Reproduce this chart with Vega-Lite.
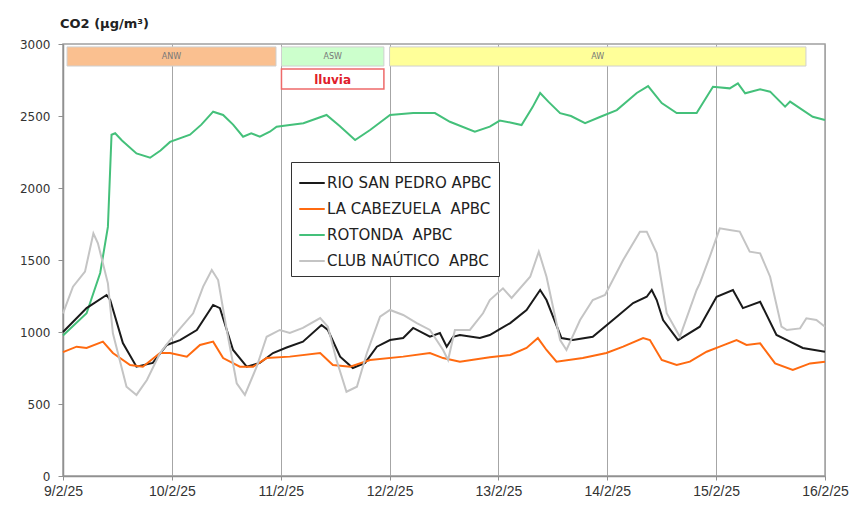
{
  "$schema": "https://vega.github.io/schema/vega-lite/v6.json",
  "autosize": "none",
  "width": 762,
  "height": 432,
  "padding": {"left": 63, "top": 44, "right": 26, "bottom": 52},
  "background": "white",
  "config": {
    "view": {"stroke": "#a0a0a0", "strokeWidth": 1.5},
    "font": "DejaVu Sans"
  },
  "title": {
    "text": "CO2 (µg/m³)",
    "anchor": "start",
    "frame": "group",
    "font": "DejaVu Sans",
    "fontSize": 13,
    "fontWeight": "bold",
    "color": "#222222",
    "offset": 7,
    "dx": -3
  },
  "datasets": {
    "co2": [
      {"d": "2025-02-09T00:00", "s": "ROTONDA  APBC", "v": 975},
      {"d": "2025-02-09T05:12", "s": "ROTONDA  APBC", "v": 1130},
      {"d": "2025-02-09T08:12", "s": "ROTONDA  APBC", "v": 1410},
      {"d": "2025-02-09T09:54", "s": "ROTONDA  APBC", "v": 1730},
      {"d": "2025-02-09T10:42", "s": "ROTONDA  APBC", "v": 2370},
      {"d": "2025-02-09T11:30", "s": "ROTONDA  APBC", "v": 2380},
      {"d": "2025-02-09T13:00", "s": "ROTONDA  APBC", "v": 2330},
      {"d": "2025-02-09T16:12", "s": "ROTONDA  APBC", "v": 2240},
      {"d": "2025-02-09T19:12", "s": "ROTONDA  APBC", "v": 2210},
      {"d": "2025-02-09T21:30", "s": "ROTONDA  APBC", "v": 2260},
      {"d": "2025-02-09T23:36", "s": "ROTONDA  APBC", "v": 2320},
      {"d": "2025-02-10T04:00", "s": "ROTONDA  APBC", "v": 2370},
      {"d": "2025-02-10T06:30", "s": "ROTONDA  APBC", "v": 2440},
      {"d": "2025-02-10T09:06", "s": "ROTONDA  APBC", "v": 2530},
      {"d": "2025-02-10T11:18", "s": "ROTONDA  APBC", "v": 2507},
      {"d": "2025-02-10T13:30", "s": "ROTONDA  APBC", "v": 2440},
      {"d": "2025-02-10T15:42", "s": "ROTONDA  APBC", "v": 2356},
      {"d": "2025-02-10T17:30", "s": "ROTONDA  APBC", "v": 2380},
      {"d": "2025-02-10T19:24", "s": "ROTONDA  APBC", "v": 2356},
      {"d": "2025-02-10T21:36", "s": "ROTONDA  APBC", "v": 2391},
      {"d": "2025-02-10T23:06", "s": "ROTONDA  APBC", "v": 2426},
      {"d": "2025-02-11T02:00", "s": "ROTONDA  APBC", "v": 2437},
      {"d": "2025-02-11T05:00", "s": "ROTONDA  APBC", "v": 2450},
      {"d": "2025-02-11T10:06", "s": "ROTONDA  APBC", "v": 2507},
      {"d": "2025-02-11T13:00", "s": "ROTONDA  APBC", "v": 2430},
      {"d": "2025-02-11T16:24", "s": "ROTONDA  APBC", "v": 2333},
      {"d": "2025-02-11T19:42", "s": "ROTONDA  APBC", "v": 2403},
      {"d": "2025-02-12T00:06", "s": "ROTONDA  APBC", "v": 2507},
      {"d": "2025-02-12T05:12", "s": "ROTONDA  APBC", "v": 2520},
      {"d": "2025-02-12T10:00", "s": "ROTONDA  APBC", "v": 2520},
      {"d": "2025-02-12T13:18", "s": "ROTONDA  APBC", "v": 2460},
      {"d": "2025-02-12T18:48", "s": "ROTONDA  APBC", "v": 2391},
      {"d": "2025-02-12T22:06", "s": "ROTONDA  APBC", "v": 2426},
      {"d": "2025-02-13T00:18", "s": "ROTONDA  APBC", "v": 2468},
      {"d": "2025-02-13T02:36", "s": "ROTONDA  APBC", "v": 2455},
      {"d": "2025-02-13T05:06", "s": "ROTONDA  APBC", "v": 2437},
      {"d": "2025-02-13T07:30", "s": "ROTONDA  APBC", "v": 2560},
      {"d": "2025-02-13T09:12", "s": "ROTONDA  APBC", "v": 2660},
      {"d": "2025-02-13T11:00", "s": "ROTONDA  APBC", "v": 2600},
      {"d": "2025-02-13T13:36", "s": "ROTONDA  APBC", "v": 2520},
      {"d": "2025-02-13T16:00", "s": "ROTONDA  APBC", "v": 2500},
      {"d": "2025-02-13T19:06", "s": "ROTONDA  APBC", "v": 2451},
      {"d": "2025-02-13T22:30", "s": "ROTONDA  APBC", "v": 2495},
      {"d": "2025-02-14T02:06", "s": "ROTONDA  APBC", "v": 2541},
      {"d": "2025-02-14T06:30", "s": "ROTONDA  APBC", "v": 2660},
      {"d": "2025-02-14T09:00", "s": "ROTONDA  APBC", "v": 2708},
      {"d": "2025-02-14T12:00", "s": "ROTONDA  APBC", "v": 2590},
      {"d": "2025-02-14T15:18", "s": "ROTONDA  APBC", "v": 2520},
      {"d": "2025-02-14T19:42", "s": "ROTONDA  APBC", "v": 2520},
      {"d": "2025-02-14T23:18", "s": "ROTONDA  APBC", "v": 2703},
      {"d": "2025-02-15T03:00", "s": "ROTONDA  APBC", "v": 2692},
      {"d": "2025-02-15T04:48", "s": "ROTONDA  APBC", "v": 2727},
      {"d": "2025-02-15T06:24", "s": "ROTONDA  APBC", "v": 2658},
      {"d": "2025-02-15T09:42", "s": "ROTONDA  APBC", "v": 2685},
      {"d": "2025-02-15T11:54", "s": "ROTONDA  APBC", "v": 2669},
      {"d": "2025-02-15T15:12", "s": "ROTONDA  APBC", "v": 2565},
      {"d": "2025-02-15T16:18", "s": "ROTONDA  APBC", "v": 2600},
      {"d": "2025-02-15T21:18", "s": "ROTONDA  APBC", "v": 2495},
      {"d": "2025-02-16T00:00", "s": "ROTONDA  APBC", "v": 2472},

      {"d": "2025-02-09T00:00", "s": "RIO SAN PEDRO APBC", "v": 1000},
      {"d": "2025-02-09T05:12", "s": "RIO SAN PEDRO APBC", "v": 1166},
      {"d": "2025-02-09T09:36", "s": "RIO SAN PEDRO APBC", "v": 1257},
      {"d": "2025-02-09T10:24", "s": "RIO SAN PEDRO APBC", "v": 1222},
      {"d": "2025-02-09T13:12", "s": "RIO SAN PEDRO APBC", "v": 923},
      {"d": "2025-02-09T16:12", "s": "RIO SAN PEDRO APBC", "v": 759},
      {"d": "2025-02-09T19:48", "s": "RIO SAN PEDRO APBC", "v": 785},
      {"d": "2025-02-09T22:54", "s": "RIO SAN PEDRO APBC", "v": 910},
      {"d": "2025-02-10T01:48", "s": "RIO SAN PEDRO APBC", "v": 944},
      {"d": "2025-02-10T05:30", "s": "RIO SAN PEDRO APBC", "v": 1014},
      {"d": "2025-02-10T09:06", "s": "RIO SAN PEDRO APBC", "v": 1188},
      {"d": "2025-02-10T10:36", "s": "RIO SAN PEDRO APBC", "v": 1166},
      {"d": "2025-02-10T13:30", "s": "RIO SAN PEDRO APBC", "v": 875},
      {"d": "2025-02-10T16:30", "s": "RIO SAN PEDRO APBC", "v": 759},
      {"d": "2025-02-10T19:24", "s": "RIO SAN PEDRO APBC", "v": 785},
      {"d": "2025-02-10T22:18", "s": "RIO SAN PEDRO APBC", "v": 854},
      {"d": "2025-02-11T01:18", "s": "RIO SAN PEDRO APBC", "v": 892},
      {"d": "2025-02-11T04:54", "s": "RIO SAN PEDRO APBC", "v": 933},
      {"d": "2025-02-11T09:00", "s": "RIO SAN PEDRO APBC", "v": 1049},
      {"d": "2025-02-11T10:24", "s": "RIO SAN PEDRO APBC", "v": 1014},
      {"d": "2025-02-11T13:06", "s": "RIO SAN PEDRO APBC", "v": 829},
      {"d": "2025-02-11T15:54", "s": "RIO SAN PEDRO APBC", "v": 750},
      {"d": "2025-02-11T18:36", "s": "RIO SAN PEDRO APBC", "v": 785},
      {"d": "2025-02-11T21:12", "s": "RIO SAN PEDRO APBC", "v": 898},
      {"d": "2025-02-12T00:06", "s": "RIO SAN PEDRO APBC", "v": 944},
      {"d": "2025-02-12T03:00", "s": "RIO SAN PEDRO APBC", "v": 958},
      {"d": "2025-02-12T05:12", "s": "RIO SAN PEDRO APBC", "v": 1028},
      {"d": "2025-02-12T08:54", "s": "RIO SAN PEDRO APBC", "v": 967},
      {"d": "2025-02-12T11:06", "s": "RIO SAN PEDRO APBC", "v": 993},
      {"d": "2025-02-12T12:36", "s": "RIO SAN PEDRO APBC", "v": 898},
      {"d": "2025-02-12T14:00", "s": "RIO SAN PEDRO APBC", "v": 967},
      {"d": "2025-02-12T15:30", "s": "RIO SAN PEDRO APBC", "v": 979},
      {"d": "2025-02-12T19:54", "s": "RIO SAN PEDRO APBC", "v": 958},
      {"d": "2025-02-12T22:06", "s": "RIO SAN PEDRO APBC", "v": 979},
      {"d": "2025-02-13T00:18", "s": "RIO SAN PEDRO APBC", "v": 1020},
      {"d": "2025-02-13T02:36", "s": "RIO SAN PEDRO APBC", "v": 1062},
      {"d": "2025-02-13T06:12", "s": "RIO SAN PEDRO APBC", "v": 1153},
      {"d": "2025-02-13T09:12", "s": "RIO SAN PEDRO APBC", "v": 1292},
      {"d": "2025-02-13T10:36", "s": "RIO SAN PEDRO APBC", "v": 1222},
      {"d": "2025-02-13T13:54", "s": "RIO SAN PEDRO APBC", "v": 958},
      {"d": "2025-02-13T16:24", "s": "RIO SAN PEDRO APBC", "v": 944},
      {"d": "2025-02-13T20:48", "s": "RIO SAN PEDRO APBC", "v": 967},
      {"d": "2025-02-14T02:06", "s": "RIO SAN PEDRO APBC", "v": 1106},
      {"d": "2025-02-14T05:42", "s": "RIO SAN PEDRO APBC", "v": 1201},
      {"d": "2025-02-14T08:42", "s": "RIO SAN PEDRO APBC", "v": 1245},
      {"d": "2025-02-14T09:48", "s": "RIO SAN PEDRO APBC", "v": 1292},
      {"d": "2025-02-14T10:54", "s": "RIO SAN PEDRO APBC", "v": 1222},
      {"d": "2025-02-14T12:18", "s": "RIO SAN PEDRO APBC", "v": 1083},
      {"d": "2025-02-14T15:36", "s": "RIO SAN PEDRO APBC", "v": 944},
      {"d": "2025-02-14T20:24", "s": "RIO SAN PEDRO APBC", "v": 1037},
      {"d": "2025-02-15T00:06", "s": "RIO SAN PEDRO APBC", "v": 1245},
      {"d": "2025-02-15T03:42", "s": "RIO SAN PEDRO APBC", "v": 1292},
      {"d": "2025-02-15T05:54", "s": "RIO SAN PEDRO APBC", "v": 1166},
      {"d": "2025-02-15T09:42", "s": "RIO SAN PEDRO APBC", "v": 1210},
      {"d": "2025-02-15T13:18", "s": "RIO SAN PEDRO APBC", "v": 979},
      {"d": "2025-02-15T16:18", "s": "RIO SAN PEDRO APBC", "v": 933},
      {"d": "2025-02-15T19:06", "s": "RIO SAN PEDRO APBC", "v": 889},
      {"d": "2025-02-16T00:00", "s": "RIO SAN PEDRO APBC", "v": 863},

      {"d": "2025-02-09T00:00", "s": "LA CABEZUELA  APBC", "v": 860},
      {"d": "2025-02-09T03:00", "s": "LA CABEZUELA  APBC", "v": 898},
      {"d": "2025-02-09T05:12", "s": "LA CABEZUELA  APBC", "v": 889},
      {"d": "2025-02-09T08:48", "s": "LA CABEZUELA  APBC", "v": 933},
      {"d": "2025-02-09T11:00", "s": "LA CABEZUELA  APBC", "v": 854},
      {"d": "2025-02-09T14:48", "s": "LA CABEZUELA  APBC", "v": 771},
      {"d": "2025-02-09T17:36", "s": "LA CABEZUELA  APBC", "v": 759},
      {"d": "2025-02-09T21:24", "s": "LA CABEZUELA  APBC", "v": 854},
      {"d": "2025-02-09T23:36", "s": "LA CABEZUELA  APBC", "v": 854},
      {"d": "2025-02-10T03:18", "s": "LA CABEZUELA  APBC", "v": 829},
      {"d": "2025-02-10T06:12", "s": "LA CABEZUELA  APBC", "v": 910},
      {"d": "2025-02-10T09:06", "s": "LA CABEZUELA  APBC", "v": 933},
      {"d": "2025-02-10T11:18", "s": "LA CABEZUELA  APBC", "v": 819},
      {"d": "2025-02-10T15:00", "s": "LA CABEZUELA  APBC", "v": 759},
      {"d": "2025-02-10T17:54", "s": "LA CABEZUELA  APBC", "v": 759},
      {"d": "2025-02-10T20:54", "s": "LA CABEZUELA  APBC", "v": 819},
      {"d": "2025-02-11T02:00", "s": "LA CABEZUELA  APBC", "v": 829},
      {"d": "2025-02-11T08:42", "s": "LA CABEZUELA  APBC", "v": 854},
      {"d": "2025-02-11T11:30", "s": "LA CABEZUELA  APBC", "v": 771},
      {"d": "2025-02-11T15:18", "s": "LA CABEZUELA  APBC", "v": 759},
      {"d": "2025-02-11T19:42", "s": "LA CABEZUELA  APBC", "v": 806},
      {"d": "2025-02-12T03:00", "s": "LA CABEZUELA  APBC", "v": 829},
      {"d": "2025-02-12T08:54", "s": "LA CABEZUELA  APBC", "v": 854},
      {"d": "2025-02-12T11:48", "s": "LA CABEZUELA  APBC", "v": 819},
      {"d": "2025-02-12T15:30", "s": "LA CABEZUELA  APBC", "v": 794},
      {"d": "2025-02-12T22:06", "s": "LA CABEZUELA  APBC", "v": 825},
      {"d": "2025-02-13T02:36", "s": "LA CABEZUELA  APBC", "v": 840},
      {"d": "2025-02-13T06:12", "s": "LA CABEZUELA  APBC", "v": 889},
      {"d": "2025-02-13T08:42", "s": "LA CABEZUELA  APBC", "v": 958},
      {"d": "2025-02-13T10:36", "s": "LA CABEZUELA  APBC", "v": 875},
      {"d": "2025-02-13T12:48", "s": "LA CABEZUELA  APBC", "v": 794},
      {"d": "2025-02-13T18:36", "s": "LA CABEZUELA  APBC", "v": 819},
      {"d": "2025-02-13T23:48", "s": "LA CABEZUELA  APBC", "v": 854},
      {"d": "2025-02-14T03:30", "s": "LA CABEZUELA  APBC", "v": 898},
      {"d": "2025-02-14T07:54", "s": "LA CABEZUELA  APBC", "v": 958},
      {"d": "2025-02-14T09:24", "s": "LA CABEZUELA  APBC", "v": 944},
      {"d": "2025-02-14T12:00", "s": "LA CABEZUELA  APBC", "v": 806},
      {"d": "2025-02-14T15:18", "s": "LA CABEZUELA  APBC", "v": 771},
      {"d": "2025-02-14T18:12", "s": "LA CABEZUELA  APBC", "v": 794},
      {"d": "2025-02-14T21:54", "s": "LA CABEZUELA  APBC", "v": 863},
      {"d": "2025-02-15T00:48", "s": "LA CABEZUELA  APBC", "v": 898},
      {"d": "2025-02-15T04:30", "s": "LA CABEZUELA  APBC", "v": 944},
      {"d": "2025-02-15T06:42", "s": "LA CABEZUELA  APBC", "v": 910},
      {"d": "2025-02-15T09:42", "s": "LA CABEZUELA  APBC", "v": 921},
      {"d": "2025-02-15T13:00", "s": "LA CABEZUELA  APBC", "v": 782},
      {"d": "2025-02-15T16:54", "s": "LA CABEZUELA  APBC", "v": 736},
      {"d": "2025-02-15T20:42", "s": "LA CABEZUELA  APBC", "v": 782},
      {"d": "2025-02-16T00:00", "s": "LA CABEZUELA  APBC", "v": 794},

      {"d": "2025-02-09T00:00", "s": "CLUB NAÚTICO  APBC", "v": 1130},
      {"d": "2025-02-09T02:12", "s": "CLUB NAÚTICO  APBC", "v": 1315},
      {"d": "2025-02-09T04:51", "s": "CLUB NAÚTICO  APBC", "v": 1419},
      {"d": "2025-02-09T06:42", "s": "CLUB NAÚTICO  APBC", "v": 1685},
      {"d": "2025-02-09T07:42", "s": "CLUB NAÚTICO  APBC", "v": 1616},
      {"d": "2025-02-09T09:54", "s": "CLUB NAÚTICO  APBC", "v": 1338},
      {"d": "2025-02-09T11:00", "s": "CLUB NAÚTICO  APBC", "v": 991},
      {"d": "2025-02-09T14:00", "s": "CLUB NAÚTICO  APBC", "v": 620},
      {"d": "2025-02-09T16:12", "s": "CLUB NAÚTICO  APBC", "v": 563},
      {"d": "2025-02-09T18:30", "s": "CLUB NAÚTICO  APBC", "v": 667},
      {"d": "2025-02-09T21:24", "s": "CLUB NAÚTICO  APBC", "v": 854},
      {"d": "2025-02-09T23:36", "s": "CLUB NAÚTICO  APBC", "v": 944},
      {"d": "2025-02-10T04:42", "s": "CLUB NAÚTICO  APBC", "v": 1130},
      {"d": "2025-02-10T06:54", "s": "CLUB NAÚTICO  APBC", "v": 1315},
      {"d": "2025-02-10T08:48", "s": "CLUB NAÚTICO  APBC", "v": 1430},
      {"d": "2025-02-10T10:12", "s": "CLUB NAÚTICO  APBC", "v": 1361},
      {"d": "2025-02-10T12:06", "s": "CLUB NAÚTICO  APBC", "v": 1014},
      {"d": "2025-02-10T14:18", "s": "CLUB NAÚTICO  APBC", "v": 644},
      {"d": "2025-02-10T16:06", "s": "CLUB NAÚTICO  APBC", "v": 563},
      {"d": "2025-02-10T18:42", "s": "CLUB NAÚTICO  APBC", "v": 759},
      {"d": "2025-02-10T20:54", "s": "CLUB NAÚTICO  APBC", "v": 967},
      {"d": "2025-02-10T23:48", "s": "CLUB NAÚTICO  APBC", "v": 1014},
      {"d": "2025-02-11T02:00", "s": "CLUB NAÚTICO  APBC", "v": 993},
      {"d": "2025-02-11T04:54", "s": "CLUB NAÚTICO  APBC", "v": 1028},
      {"d": "2025-02-11T08:42", "s": "CLUB NAÚTICO  APBC", "v": 1097},
      {"d": "2025-02-11T10:24", "s": "CLUB NAÚTICO  APBC", "v": 1037},
      {"d": "2025-02-11T12:18", "s": "CLUB NAÚTICO  APBC", "v": 806},
      {"d": "2025-02-11T14:30", "s": "CLUB NAÚTICO  APBC", "v": 585},
      {"d": "2025-02-11T16:48", "s": "CLUB NAÚTICO  APBC", "v": 620},
      {"d": "2025-02-11T19:00", "s": "CLUB NAÚTICO  APBC", "v": 854},
      {"d": "2025-02-11T21:54", "s": "CLUB NAÚTICO  APBC", "v": 1106},
      {"d": "2025-02-12T00:06", "s": "CLUB NAÚTICO  APBC", "v": 1153},
      {"d": "2025-02-12T03:00", "s": "CLUB NAÚTICO  APBC", "v": 1118},
      {"d": "2025-02-12T06:00", "s": "CLUB NAÚTICO  APBC", "v": 1062},
      {"d": "2025-02-12T08:54", "s": "CLUB NAÚTICO  APBC", "v": 1014},
      {"d": "2025-02-12T11:48", "s": "CLUB NAÚTICO  APBC", "v": 875},
      {"d": "2025-02-12T12:54", "s": "CLUB NAÚTICO  APBC", "v": 806},
      {"d": "2025-02-12T14:24", "s": "CLUB NAÚTICO  APBC", "v": 1014},
      {"d": "2025-02-12T17:42", "s": "CLUB NAÚTICO  APBC", "v": 1014},
      {"d": "2025-02-12T20:36", "s": "CLUB NAÚTICO  APBC", "v": 1130},
      {"d": "2025-02-12T22:06", "s": "CLUB NAÚTICO  APBC", "v": 1222},
      {"d": "2025-02-13T01:00", "s": "CLUB NAÚTICO  APBC", "v": 1303},
      {"d": "2025-02-13T02:54", "s": "CLUB NAÚTICO  APBC", "v": 1236},
      {"d": "2025-02-13T07:00", "s": "CLUB NAÚTICO  APBC", "v": 1384},
      {"d": "2025-02-13T08:54", "s": "CLUB NAÚTICO  APBC", "v": 1558},
      {"d": "2025-02-13T10:36", "s": "CLUB NAÚTICO  APBC", "v": 1384},
      {"d": "2025-02-13T13:36", "s": "CLUB NAÚTICO  APBC", "v": 944},
      {"d": "2025-02-13T15:00", "s": "CLUB NAÚTICO  APBC", "v": 875},
      {"d": "2025-02-13T18:00", "s": "CLUB NAÚTICO  APBC", "v": 1083},
      {"d": "2025-02-13T20:48", "s": "CLUB NAÚTICO  APBC", "v": 1222},
      {"d": "2025-02-13T23:30", "s": "CLUB NAÚTICO  APBC", "v": 1257},
      {"d": "2025-02-14T03:30", "s": "CLUB NAÚTICO  APBC", "v": 1500},
      {"d": "2025-02-14T07:12", "s": "CLUB NAÚTICO  APBC", "v": 1697},
      {"d": "2025-02-14T08:42", "s": "CLUB NAÚTICO  APBC", "v": 1697},
      {"d": "2025-02-14T10:54", "s": "CLUB NAÚTICO  APBC", "v": 1548},
      {"d": "2025-02-14T13:06", "s": "CLUB NAÚTICO  APBC", "v": 1130},
      {"d": "2025-02-14T16:00", "s": "CLUB NAÚTICO  APBC", "v": 967},
      {"d": "2025-02-14T19:42", "s": "CLUB NAÚTICO  APBC", "v": 1292},
      {"d": "2025-02-14T20:24", "s": "CLUB NAÚTICO  APBC", "v": 1338},
      {"d": "2025-02-14T22:36", "s": "CLUB NAÚTICO  APBC", "v": 1523},
      {"d": "2025-02-15T00:48", "s": "CLUB NAÚTICO  APBC", "v": 1720},
      {"d": "2025-02-15T03:00", "s": "CLUB NAÚTICO  APBC", "v": 1708},
      {"d": "2025-02-15T05:12", "s": "CLUB NAÚTICO  APBC", "v": 1697},
      {"d": "2025-02-15T07:24", "s": "CLUB NAÚTICO  APBC", "v": 1558},
      {"d": "2025-02-15T09:42", "s": "CLUB NAÚTICO  APBC", "v": 1546},
      {"d": "2025-02-15T11:54", "s": "CLUB NAÚTICO  APBC", "v": 1384},
      {"d": "2025-02-15T14:24", "s": "CLUB NAÚTICO  APBC", "v": 1037},
      {"d": "2025-02-15T15:36", "s": "CLUB NAÚTICO  APBC", "v": 1014},
      {"d": "2025-02-15T18:30", "s": "CLUB NAÚTICO  APBC", "v": 1025},
      {"d": "2025-02-15T19:54", "s": "CLUB NAÚTICO  APBC", "v": 1095},
      {"d": "2025-02-15T22:06", "s": "CLUB NAÚTICO  APBC", "v": 1083},
      {"d": "2025-02-16T00:00", "s": "CLUB NAÚTICO  APBC", "v": 1037}
    ],
    "bands": [
      {"a": "2025-02-09T00:53", "b": "2025-02-10T22:58", "lo": 2847, "hi": 2980, "c": "#fac090", "label": "ANW", "mid": "2025-02-09T23:55"},
      {"a": "2025-02-11T00:10", "b": "2025-02-11T22:45", "lo": 2847, "hi": 2980, "c": "#ccffcc", "label": "ASW", "mid": "2025-02-11T11:27"},
      {"a": "2025-02-12T00:00", "b": "2025-02-15T19:48", "lo": 2847, "hi": 2980, "c": "#ffff99", "label": "AW", "mid": "2025-02-13T21:54"}
    ],
    "rain": [
      {"a": "2025-02-11T00:10", "b": "2025-02-11T22:45", "lo": 2687, "hi": 2826, "label": "lluvia", "mid": "2025-02-11T11:27"}
    ]
  },
  "encoding": {
    "x": {
      "type": "temporal",
      "scale": {"domain": [{"year": 2025, "month": "feb", "date": 9}, {"year": 2025, "month": "feb", "date": 16}]},
      "axis": {
        "title": null,
        "format": "%-d/%-m/%y",
        "tickCount": {"interval": "day", "step": 1},
        "grid": true,
        "gridColor": "#a6a6a6",
        "gridWidth": 1,
        "domainColor": "#909090",
        "domainWidth": 1.5,
        "tickColor": "#909090",
        "tickSize": 4,
        "labelPadding": 4,
        "labelFont": "Liberation Sans",
        "labelFontSize": 14,
        "labelColor": "#333333",
        "labelFlush": false
      }
    },
    "y": {
      "type": "quantitative",
      "scale": {"domain": [0, 3000], "nice": false},
      "axis": {
        "title": null,
        "values": [0, 500, 1000, 1500, 2000, 2500, 3000],
        "format": "d",
        "grid": false,
        "domainColor": "#909090",
        "domainWidth": 1.5,
        "tickColor": "#909090",
        "tickSize": 5,
        "labelPadding": 8,
        "labelFont": "DejaVu Sans",
        "labelFontSize": 12,
        "labelColor": "#333333"
      }
    }
  },
  "layer": [
    {
      "data": {"name": "bands"},
      "mark": {"type": "rect", "stroke": "#d0d0d0", "strokeWidth": 1},
      "encoding": {
        "x": {"field": "a", "type": "temporal"},
        "x2": {"field": "b"},
        "y": {"field": "lo", "type": "quantitative"},
        "y2": {"field": "hi"},
        "fill": {"field": "c", "type": "nominal", "scale": null, "legend": null}
      }
    },
    {
      "data": {"name": "bands"},
      "mark": {"type": "text", "font": "DejaVu Sans", "fontSize": 8, "color": "#777777", "baseline": "middle", "align": "center"},
      "encoding": {
        "x": {"field": "mid", "type": "temporal"},
        "y": {"datum": 2913, "type": "quantitative"},
        "text": {"field": "label"}
      }
    },
    {
      "data": {"name": "rain"},
      "mark": {"type": "rect", "fill": "white", "stroke": "#ee6a6a", "strokeWidth": 1.5},
      "encoding": {
        "x": {"field": "a", "type": "temporal"},
        "x2": {"field": "b"},
        "y": {"field": "lo", "type": "quantitative"},
        "y2": {"field": "hi"}
      }
    },
    {
      "data": {"name": "rain"},
      "mark": {"type": "text", "font": "DejaVu Sans", "fontSize": 12, "fontWeight": "bold", "color": "#e0202a", "baseline": "middle", "align": "center"},
      "encoding": {
        "x": {"field": "mid", "type": "temporal"},
        "y": {"datum": 2750, "type": "quantitative"},
        "text": {"field": "label"}
      }
    },
    {
      "data": {"name": "co2"},
      "mark": {"type": "line", "strokeWidth": 2},
      "encoding": {
        "x": {"field": "d", "type": "temporal"},
        "y": {"field": "v", "type": "quantitative"},
        "color": {
          "field": "s",
          "type": "nominal",
          "scale": {
            "domain": ["RIO SAN PEDRO APBC", "LA CABEZUELA  APBC", "ROTONDA  APBC", "CLUB NAÚTICO  APBC"],
            "range": ["#1a1a1a", "#ff6a10", "#44c07a", "#c4c4c4"]
          },
          "legend": {
            "title": null,
            "orient": "none",
            "legendX": 228,
            "legendY": 118,
            "symbolType": "stroke",
            "symbolSize": 650,
            "symbolStrokeWidth": 2,
            "labelFont": "DejaVu Sans",
            "labelFontSize": 15,
            "labelColor": "#222222",
            "labelOffset": 1,
            "labelExpr": "replace(datum.label, '  ', '\u00a0\u00a0')",
            "rowPadding": 4,
            "padding": 7,
            "strokeColor": "#333333",
            "fillColor": "white",
            "labelLimit": 300
          }
        },
        "order": {"field": "s"}
      }
    }
  ]
}
